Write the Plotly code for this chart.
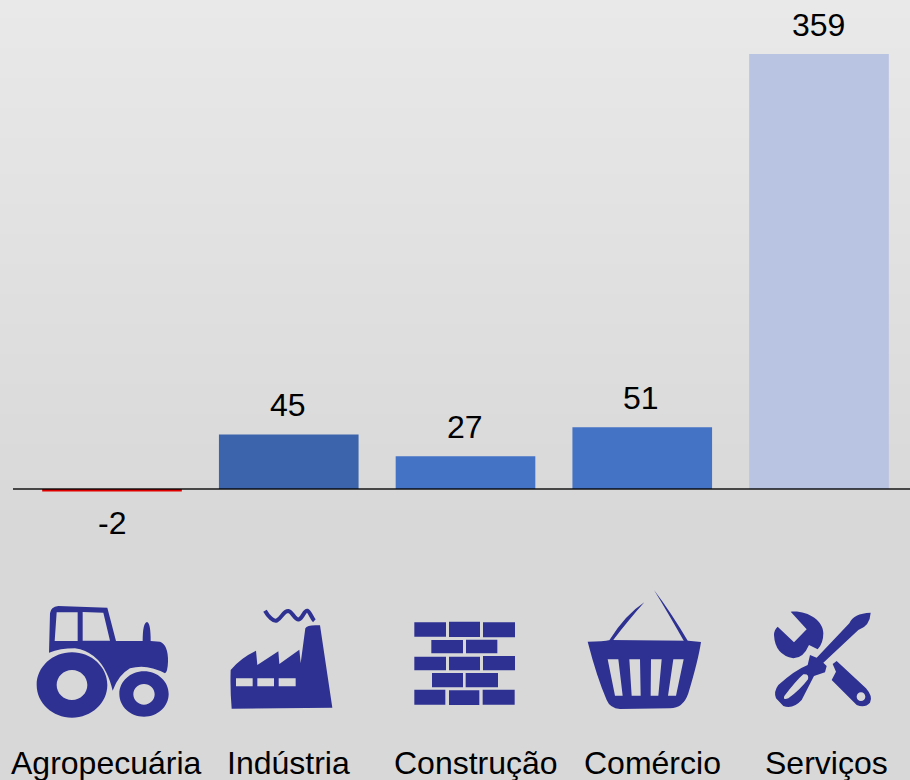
import re
import plotly.graph_objects as go

categories = ["Agropecuária", "Indústria", "Construção", "Comércio", "Serviços"]
values = [-2, 45, 27, 51, 359]
bar_colors = ["#e00000", "#3b64ac", "#4472c4", "#4472c4", "#b9c3e2"]
label_px = [106, 288.5, 475.5, 652.5, 826]
value_dx = [0, -0.5, -1, -1, -1]

W, H = 910, 780
ICON = "#2e3192"
BASE, STEP, SCALE = 489, 176.75, 1.212
LEFT = 13


def tf(path, ox, oy):
    out, isx = [], True
    for tok in re.findall(r"[A-Za-z]|-?\d+\.?\d*", path):
        if tok.isalpha():
            out.append(tok)
            isx = True
        else:
            v = float(tok)
            out.append(f"{(v / 3 + ox) if isx else (v / 3 + oy):.2f}")
            isx = not isx
    return " ".join(out)


def ell(cx, cy, rx, ry):
    k = 0.5523
    return (f"M {cx - rx},{cy} C {cx - rx},{cy - k * ry} {cx - k * rx},{cy - ry} {cx},{cy - ry} "
            f"C {cx + k * rx},{cy - ry} {cx + rx},{cy - k * ry} {cx + rx},{cy} "
            f"C {cx + rx},{cy + k * ry} {cx + k * rx},{cy + ry} {cx},{cy + ry} "
            f"C {cx - k * rx},{cy + ry} {cx - rx},{cy + k * ry} {cx - rx},{cy} Z ")


def box(x0, x1, y0, y1):
    return f"M {x0},{y0} L {x1},{y0} L {x1},{y1} L {x0},{y1} Z "


tractor = ("M 147,218 L 150,100 Q 152,80 175,78 L 322,83 L 348,183 L 428,183 Q 428,128 441,126 "
           "Q 452,128 452,183 L 480,185 Q 505,195 504,245 Q 503,275 495,280 Q 440,250 390,265 "
           "Q 355,285 338,332 Q 330,300 320,280 Q 290,215 225,205 Q 180,205 147,218 Z "
           "M 170,97 L 233,97 L 233,183 L 164,183 Z M 248,96 L 310,98 L 330,182 L 248,182 Z ")
wheels = ell(216, 315, 106, 98) + ell(216, 315, 46, 45) + ell(432, 342, 74, 68) + ell(432, 343, 32, 31)
factory = ("M 692,270 Q 720,235 768,212 L 772,255 L 835,214 L 838,252 L 898,209 L 902,250 L 916,145 "
           "Q 922,133 960,136 L 997,383 L 695,386 Q 690,330 692,270 Z "
           + box(708, 758, 295, 319) + box(772, 822, 295, 319) + box(836, 887, 295, 319))
smoke = "M 795,92 C 805,110 820,125 830,122 C 845,115 850,92 865,93 C 878,95 885,122 897,118 C 910,113 912,90 922,92 C 930,95 935,115 943,122"
bricks = "".join(box(*b) for b in [
    (103, 198, 127, 170), (207, 300, 125, 171), (309, 405, 127, 172),
    (154, 249, 180, 220), (258, 352, 179, 220),
    (103, 198, 230, 271), (207, 300, 230, 271), (309, 405, 228, 271),
    (156, 249, 279, 322), (257, 354, 279, 322),
    (103, 196, 329, 374), (207, 298, 331, 375), (308, 404, 329, 374)])
handles = ("M 688,181 Q 735,105 793,67 Q 750,115 698,182 Z "
           "M 822,30 Q 875,100 924,184 L 912,184 Q 865,100 822,30 Z ")
basket = ("M 623,185 Q 670,185 690,180 L 925,182 L 963,186 Q 955,240 925,340 Q 910,385 870,385 "
          "L 720,387 Q 690,385 680,360 Q 650,290 623,185 Z "
          "M 683,238 L 715,238 L 728,347 L 705,347 Z M 748,238 L 780,238 L 782,347 L 755,347 Z "
          "M 813,238 L 845,238 L 835,347 L 812,347 Z M 880,238 L 911,238 L 888,347 L 864,347 Z ")
wrench = ("M 152,65 C 200,60 250,90 250,130 Q 250,160 233,178 L 207,165 Q 190,205 160,205 "
          "Q 105,195 102,135 Q 102,120 113,110 L 162,157 L 200,118 Z ")
driver = ("M 392,68 Q 340,70 328,100 L 230,203 L 210,195 L 203,225 Q 165,240 115,285 Q 100,305 108,325 "
          "L 130,348 Q 160,358 185,330 L 222,258 L 255,247 L 260,228 L 250,218 L 355,120 Q 390,108 392,68 Z "
          "M 133,318 Q 170,270 190,253 Q 208,250 204,268 Q 180,300 145,325 Q 128,332 133,318 Z ")
wrench2 = ("M 290,213 L 378,295 Q 400,320 390,338 Q 375,355 350,345 L 275,270 L 288,245 L 278,222 Z "
           + ell(363, 320, 13, 13))

shapes = []
# background gradient bands, in paper units so they sit under every subplot
TOP, MID = 233, 216
band = 6
for y in range(0, H, band):
    t = min(y / 520, 1)
    g = round(TOP + (MID - TOP) * t)
    shapes.append(dict(type="rect", xref="paper", yref="paper", x0=0, x1=1,
                       y0=1 - (y + band) / H, y1=1 - y / H,
                       fillcolor=f"rgb({g},{g},{g})", line_width=0, layer="below"))

# category axis line, semi-transparent and above the bars
shapes.append(dict(type="line", xref="paper", yref="y", x0=LEFT / W, x1=1, y0=0, y1=0,
                   line=dict(color="rgba(0,0,0,0.68)", width=2), layer="above"))


def icon(p, ox, oy):
    shapes.append(dict(type="path", xref="x2", yref="y2", path=tf(p, ox, oy), fillcolor=ICON,
                       line=dict(width=0), fillrule="evenodd", layer="above"))


icon(tractor, 0, 580)
icon(wheels, 0, 580)
icon(factory, 0, 580)
shapes.append(dict(type="path", xref="x2", yref="y2", path=tf(smoke, 0, 580),
                   fillcolor="rgba(0,0,0,0)", line=dict(color=ICON, width=4), layer="above"))
icon(bricks, 380, 580)
icon(handles, 380, 580)
icon(basket, 380, 580)
icon(wrench, 740, 590)
icon(driver, 740, 590)
icon(wrench2, 740, 590)

fig = go.Figure(go.Bar(x=categories, y=values, marker=dict(color=bar_colors, line_width=0),
                       width=0.79, hoverinfo="skip"))
# invisible pixel-scale axes for the pictograms
fig.add_trace(go.Scatter(x=[0], y=[0], xaxis="x2", yaxis="y2", mode="markers",
                         marker=dict(opacity=0), hoverinfo="skip"))

FONT = "Liberation Sans, Arial, sans-serif"
ann = []
for i, (c, v) in enumerate(zip(categories, values)):
    ann.append(dict(x=i, y=v, text=str(v), showarrow=False, xshift=value_dx[i],
                    yanchor="middle", yshift=29 if v > 0 else -32,
                    font=dict(family=FONT, size=32, color="#000000")))
    ann.append(dict(x=label_px[i] / W, y=1 - 763 / H, xref="paper", yref="paper", text=c,
                    showarrow=False, yanchor="middle", xanchor="center",
                    font=dict(family=FONT, size=32, color="#000000")))

fig.update_layout(
    width=W, height=H, margin=dict(l=0, r=0, t=0, b=0), autosize=False,
    showlegend=False, paper_bgcolor="#d9d9d9", plot_bgcolor="rgba(0,0,0,0)",
    shapes=shapes, annotations=ann,
    xaxis=dict(type="category", domain=[LEFT / W, 1], range=[(LEFT - 112) / STEP, (W - 112) / STEP],
               showgrid=False, showticklabels=False, ticks="", zeroline=False, showline=False,
               fixedrange=True),
    yaxis=dict(range=[(BASE - H) / SCALE, BASE / SCALE], domain=[0, 1], showgrid=False,
               showticklabels=False, ticks="", zeroline=False, showline=False, fixedrange=True),
    xaxis2=dict(range=[0, W], domain=[0, 1], anchor="y2", visible=False, fixedrange=True),
    yaxis2=dict(range=[H, 0], domain=[0, 1], anchor="x2", overlaying="y", visible=False, fixedrange=True),
)
fig.write_html("out.html", config={"displayModeBar": False},
               post_script="document.body.style.margin='0';document.documentElement.style.overflow='hidden';")
